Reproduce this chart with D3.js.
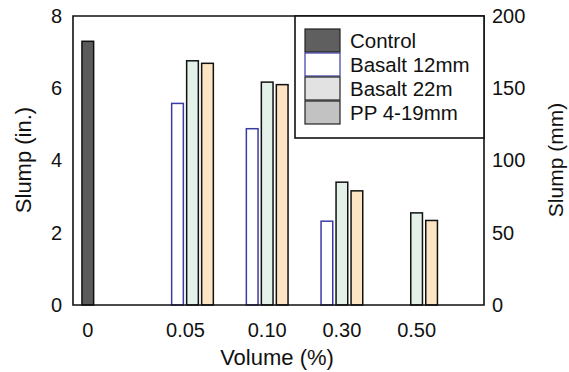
<!DOCTYPE html>
<html><head><meta charset="utf-8">
<script src="https://cdn.jsdelivr.net/npm/d3@7"></script>
<style>body{margin:0;background:#fff}svg{display:block}text{font-family:"Liberation Sans",Arial,sans-serif;fill:#111}</style>
</head><body><svg id="c" width="569" height="372"></svg>
<script>
const categories = ["0","0.05","0.10","0.30","0.50"];
const seriesNames = ["Control","Basalt 12mm","Basalt 22m","PP 4-19mm"];
const control   = [7.3, 0, 0, 0, 0];
const basalt12  = [0, 5.58, 4.88, 2.32, 0];
const basalt22  = [0, 6.76, 6.17, 3.40, 2.55];
const pp        = [0, 6.69, 6.10, 3.16, 2.34];
const leftTicks = [0,2,4,6,8];
const rightTicks = [0,50,100,150,200];

const seriesValues = [control, basalt12, basalt22, pp];
const barFill   = ["#5b5b5b","#ffffff","#e4f1e9","#fde4c2"];
const barStroke = ["#111","#3b3ba6","#111","#111"];
const legFill   = ["#5f5f5f","#ffffff","#e2e2e2","#c2c2c2"];
const legStroke = ["#222","#3b3ba6","#222","#222"];

const svg = d3.select("#c");
const L=73, R=484, T=16, B=305;
const FONT = "Liberation Sans, Arial, sans-serif";

const y = d3.scaleLinear().domain([0,8]).range([B,T]);
const yR = d3.scaleLinear().domain([0,200]).range([B,T]);
const x0 = d3.scaleBand().domain(categories).range([80.3, 80.3+5*74.7-14.7]).paddingInner(0.197).paddingOuter(0);
const x1 = d3.scaleBand().domain(seriesNames).range([0, x0.bandwidth()]).paddingInner(0.22).paddingOuter(0.11);

// bars
seriesNames.forEach((s,si)=>{
  svg.append("g").selectAll("rect").data(seriesValues[si]).join("rect")
    .attr("x",(d,i)=>x0(categories[i])+x1(s))
    .attr("width",x1.bandwidth())
    .attr("y",d=>y(d))
    .attr("height",d=>B-y(d))
    .attr("fill",barFill[si]).attr("stroke",barStroke[si]).attr("stroke-width",1.5);
});

// frame
svg.append("path").attr("d",`M${L},${T}H${R}V${B}H${L}Z`).attr("fill","none").attr("stroke","#111").attr("stroke-width",1.6);

// left axis
const ga = svg.append("g").attr("transform",`translate(${L},0)`)
  .call(d3.axisLeft(y).tickValues(leftTicks).tickSize(0).tickPadding(11).tickFormat(d3.format("d")));
ga.select(".domain").remove();
ga.selectAll("text").attr("font-size",20).attr("font-family",FONT).attr("fill","#111");

const gr = svg.append("g").attr("transform",`translate(${R},0)`)
  .call(d3.axisRight(yR).tickValues(rightTicks).tickSize(0).tickPadding(8).tickFormat(d3.format("d")));
gr.select(".domain").remove();
gr.selectAll("text").attr("font-size",20).attr("font-family",FONT).attr("fill","#111");

// x labels
const labelSeries = ["Control","Basalt 22m","Basalt 22m","Basalt 22m","Basalt 22m"];
const labelDx = [0,-7,0,0,0];
svg.append("g").selectAll("text").data(categories).join("text")
  .attr("x",(d,i)=>x0(d)+x1(labelSeries[i])+x1.bandwidth()/2+labelDx[i])
  .attr("y",337).attr("text-anchor","middle").attr("font-size",20).text(d=>d);

// axis titles
svg.append("text").attr("x",277).attr("y",365).attr("text-anchor","middle").attr("font-size",22).text("Volume (%)");
svg.append("text").attr("transform","translate(31,160) rotate(-90)").attr("text-anchor","middle").attr("font-size",22).text("Slump (in.)");
svg.append("text").attr("transform","translate(563,160) rotate(-90)").attr("text-anchor","middle").attr("font-size",21).text("Slump (mm)");

// legend
const lg = svg.append("g");
lg.append("rect").attr("x",295).attr("y",T).attr("width",R-295).attr("height",122).attr("fill","#fff").attr("stroke","#111").attr("stroke-width",1.6);
seriesNames.forEach((s,i)=>{
  const yy = 29 + i*24;
  lg.append("rect").attr("x",305).attr("y",yy).attr("width",35).attr("height",23)
    .attr("fill",legFill[i]).attr("stroke",legStroke[i]).attr("stroke-width",1.2);
  lg.append("text").attr("x",350).attr("y",yy+18.5).attr("font-size",20.5).text(s);
});
</script></body></html>
